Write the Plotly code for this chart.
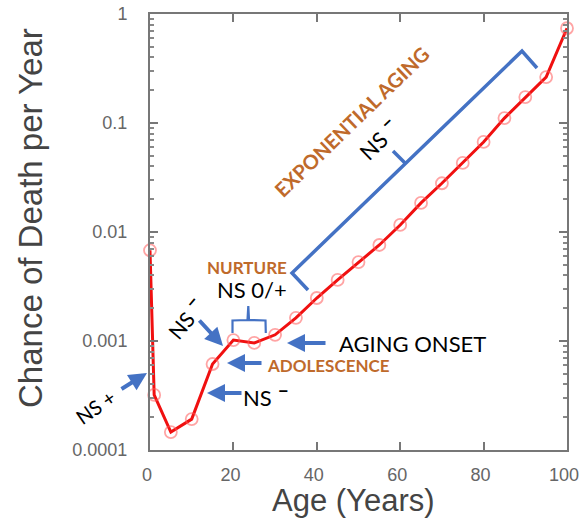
import plotly.graph_objects as go

# ---- data ----
ages = [0, 1, 5, 10, 15, 20, 25, 30, 35, 40, 45, 50, 55, 60, 65, 70, 75, 80, 85, 90, 95, 100]
death_rate = [0.0068, 0.00032, 0.000146, 0.000192, 0.000615, 0.00102, 0.00096, 0.00114,
              0.00163, 0.00248, 0.00363, 0.0053, 0.0076, 0.0116, 0.0185, 0.028, 0.043,
              0.067, 0.111, 0.173, 0.264, 0.74]
x_ticks = [0, 20, 40, 60, 80, 100]
y_ticks = [0.0001, 0.001, 0.01, 0.1, 1]
y_tick_labels = ["0.0001", "0.001", "0.01", "0.1", "1"]

W, H = 581, 521
L, R, T, B = 150, 14, 14, 71
PW, PH = W - L - R, H - T - B


def px(x, y):
    """pixel position -> paper coordinates"""
    return (x - L) / PW, (H - B - y) / PH


BLUE = "#4472C4"
ORANGE = "#BF6A2B"
TXT_FONT = "Lato"
DASH = "<sup><span style='font-size:20px'><b>\u2013</b></span></sup>"

fig = go.Figure()
fig.add_trace(go.Scatter(
    x=ages, y=death_rate, mode="lines+markers",
    line=dict(color="#F01010", width=3),
    marker=dict(symbol="circle-open", size=12, color="rgba(255,90,90,0.55)",
                line=dict(width=1.8, color="rgba(255,90,90,0.55)")),
    cliponaxis=False, showlegend=False, hoverinfo="skip",
))

axis_common = dict(
    showline=True, linecolor="#777", linewidth=2, mirror="ticks",
    ticks="inside", tickcolor="#777", showgrid=False, zeroline=False,
    automargin=False, ticklabeloverflow="allow",
    tickfont=dict(family="Liberation Sans", size=18, color="#666"),
)

fig.update_xaxes(range=[0, 100], tickvals=x_ticks, ticklen=8, tickwidth=1.5,
                 ticklabelstandoff=7, ticklabelshift=-3, **axis_common)
fig.update_yaxes(type="log", range=[-4, 0], tickvals=y_ticks, ticktext=y_tick_labels,
                 ticklen=8, tickwidth=1.5, ticklabelstandoff=17,
                 minor=dict(ticks="inside", ticklen=4, tickcolor="#888", dtick="D1", showgrid=False),
                 **axis_common)

annotations = []


def text(s, x, y, size, color="black", angle=0, bold=False, xanchor="center", family=TXT_FONT):
    X, Y = px(x, y)
    annotations.append(dict(
        text=f"<b>{s}</b>" if bold else s, x=X, y=Y, xref="paper", yref="paper",
        showarrow=False, textangle=angle, xanchor=xanchor, yanchor="middle",
        font=dict(family=family, size=size, color=color),
    ))


def arrow(hx, hy, tx, ty):
    X, Y = px(hx, hy)
    annotations.append(dict(
        text="", x=X, y=Y, xref="paper", yref="paper", showarrow=True,
        ax=tx - hx, ay=ty - hy, arrowhead=2, arrowsize=0.9, arrowwidth=4,
        arrowcolor=BLUE, standoff=0,
    ))


# axis titles
text("Age (Years)", 353, 500, 31, color="#444", family="Liberation Sans")
text("Chance of Death per Year", 30, 218, 33, color="#444", angle=-90, family="Liberation Sans")

# labels
text("EXPONENTIAL AGING", 351, 122, 20, ORANGE, angle=-44, bold=True)
text("NS " + DASH, 377, 137, 22, angle=-44)
text("NURTURE", 247, 267, 17, ORANGE, bold=True)
text("NS 0/+", 252, 289, 22)
text("AGING ONSET", 337, 343, 22, xanchor="left")
text("ADOLESCENCE", 328, 365, 17, ORANGE, bold=True)
text("NS " + DASH, 266, 394, 22)
text("NS " + DASH, 183, 316, 21, angle=-50)
text("NS +", 95, 407, 20, angle=-35)

# arrows
arrow(147, 373, 120, 390)
arrow(223, 346, 198, 319)
arrow(227, 363, 263, 363)
arrow(207, 393, 243, 393)
arrow(287, 343, 327, 343)


def path(points):
    pts = [px(x, y) for x, y in points]
    return "M " + " L ".join(f"{a:.5f},{b:.5f}" for a, b in pts)


shapes = [
    dict(type="path", xref="paper", yref="paper",
         path=path([(308, 290), (292, 273), (522, 51), (537, 68)]),
         line=dict(color=BLUE, width=3.5)),
    dict(type="path", xref="paper", yref="paper",
         path=path([(406, 164), (393, 151)]),
         line=dict(color=BLUE, width=3.5)),
    dict(type="path", xref="paper", yref="paper",
         path=path([(232.5, 333), (232.5, 320.5), (247.5, 320), (248.3, 306),
                    (249, 320), (265.5, 320.5), (265.8, 333)]),
         line=dict(color=BLUE, width=2.2)),
]

fig.update_layout(
    width=W, height=H, margin=dict(l=L, r=R, t=T, b=B),
    paper_bgcolor="white", plot_bgcolor="white",
    annotations=annotations, shapes=shapes,
)

fig.write_html("out.html", config={"displayModeBar": False},
               post_script="document.body.style.margin='0';document.body.style.overflow='hidden';")
